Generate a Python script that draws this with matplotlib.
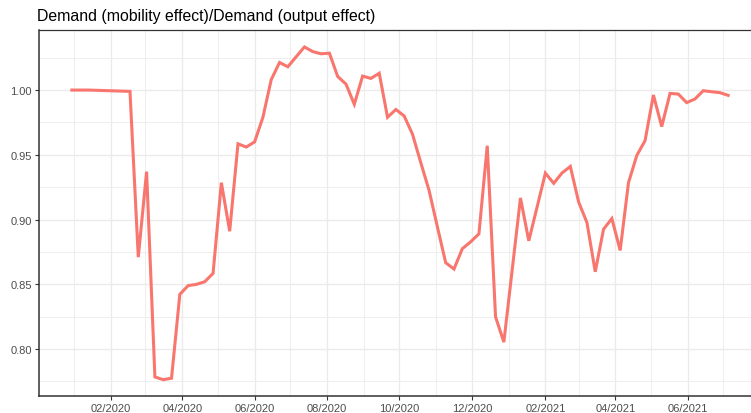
import numpy as np
import pandas as pd
import matplotlib
matplotlib.use("Agg")
import matplotlib.pyplot as plt
import matplotlib.dates as mdates
from matplotlib.ticker import MultipleLocator, FixedLocator

plt.rcParams['font.family'] = ['Liberation Sans', 'DejaVu Sans']

start_date = "2019-12-30"
ratio = [
    1.000, 1.000, 1.000, 0.9998, 0.9996, 0.9994, 0.9992, 0.999,
    0.871, 0.937, 0.7785, 0.7764, 0.7775, 0.8423, 0.849, 0.850,
    0.852, 0.8585, 0.9285, 0.891, 0.9585, 0.956, 0.960, 0.979,
    1.008, 1.0213, 1.018, 1.0257, 1.0333, 1.0297, 1.028, 1.0285,
    1.0105, 1.0046, 0.989, 1.0108, 1.009, 1.013, 0.979, 0.985,
    0.980, 0.966, 0.944, 0.9225, 0.8944, 0.8667, 0.8618, 0.8775,
    0.8828, 0.889, 0.957, 0.8249, 0.8054, 0.861, 0.9167, 0.8836,
    0.9097, 0.9359, 0.928, 0.936, 0.941, 0.9136, 0.8977, 0.8597,
    0.8926, 0.9008, 0.8762, 0.9285, 0.9495, 0.961, 0.9962, 0.9718,
    0.9974, 0.9969, 0.9903, 0.9931, 0.9995, 0.9987, 0.998, 0.9959,
]
dates = pd.date_range(start_date, periods=len(ratio), freq="7D")

tick_dates = ["2020-02-01", "2020-04-01", "2020-06-01", "2020-08-01", "2020-10-01",
              "2020-12-01", "2021-02-01", "2021-04-01", "2021-06-01"]

W, H = 751, 414
fig = plt.figure(figsize=(W / 100, H / 100), dpi=100)
left, right, bottom, top = 39, 761, 414 - 397.3, 414 - 31.3
ax = fig.add_axes([left / W, bottom / H, (right - left) / W, (top - bottom) / H])

ax.plot(dates, ratio, color="#F8766D", lw=2.2, solid_joinstyle="miter")
ax.margins(x=0.05, y=0.05)

ax.xaxis.set_major_locator(FixedLocator(mdates.date2num(pd.to_datetime(tick_dates))))
ax.xaxis.set_minor_locator(mdates.MonthLocator())
ax.xaxis.set_major_formatter(mdates.DateFormatter("%m/%Y"))
ax.yaxis.set_major_locator(MultipleLocator(0.05))
ax.yaxis.set_minor_locator(MultipleLocator(0.025))
ax.yaxis.set_major_formatter(lambda v, p: f"{v:.2f}")

ax.grid(which="major", color="#EBEBEB", lw=1.0)
ax.grid(which="minor", color="#EBEBEB", lw=0.6)
ax.set_axisbelow(True)

ax.tick_params(which="major", length=3, width=0.8, color="#333333",
               labelsize=8, labelcolor="#4D4D4D", pad=2)
ax.tick_params(which="minor", length=0)

for s in ["left", "bottom"]:
    ax.spines[s].set_color("#333333")
    ax.spines[s].set_linewidth(1.1)
ax.spines["top"].set_color("#333333")
ax.spines["top"].set_linewidth(0.9)
ax.spines["right"].set_visible(False)

fig.text(37 / W, 1 - 17 / H, "Demand (mobility effect)/Demand (output effect)",
         fontsize=11.4, color="black", va="center", ha="left")

fig.savefig("out.png", dpi=100)
